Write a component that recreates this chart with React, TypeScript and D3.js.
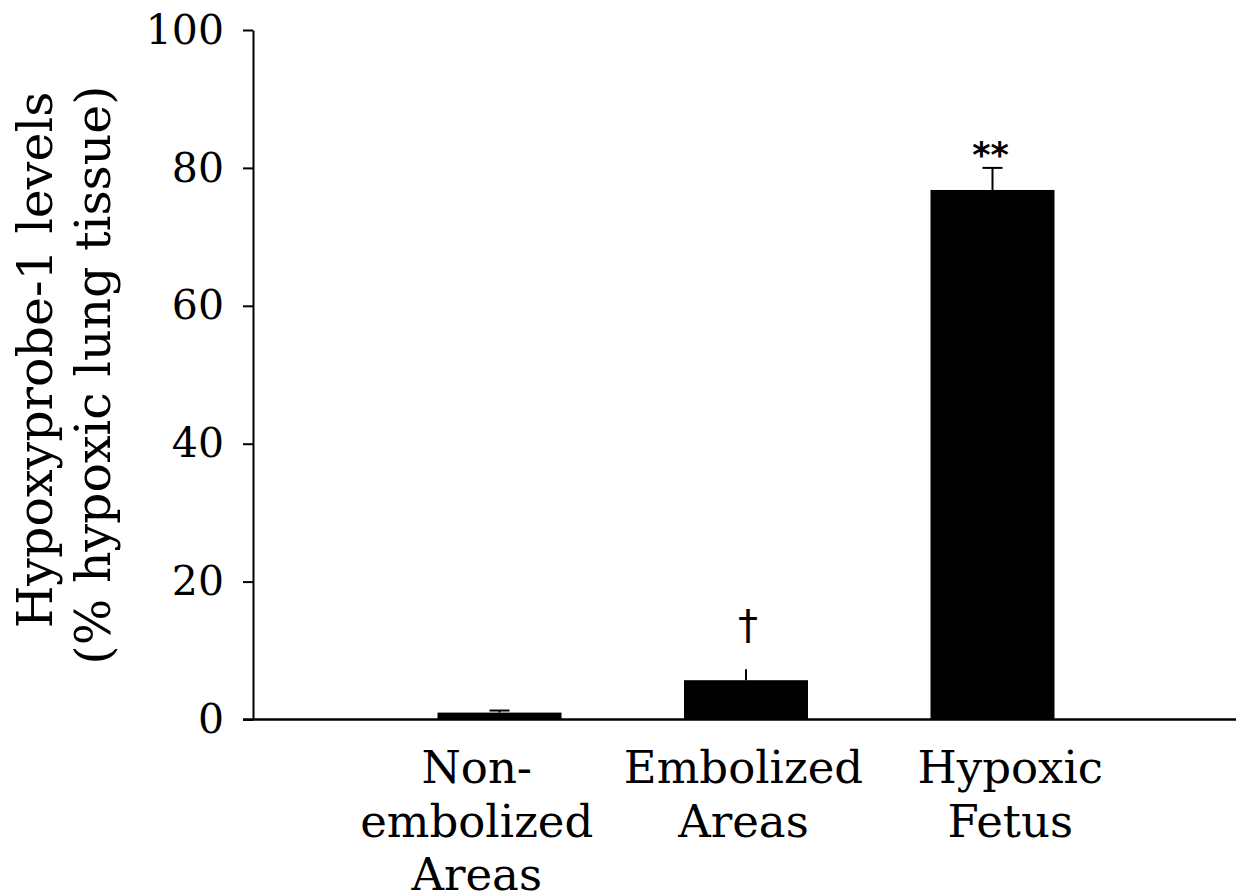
import React, { useEffect, useRef } from "react";
import * as d3 from "d3";

const categories = ["Non-embolized Areas", "Embolized Areas", "Hypoxic Fetus"];
const categoryLines = [["Non-", "embolized", "Areas"], ["Embolized", "Areas"], ["Hypoxic", "Fetus"]];
const means = [1.0, 5.7, 76.8];
const errors = [0.3, 1.6, 3.2];
const errorCaps = [true, false, true];
const marks = ["", "\u2020", "**"];
const yTicks = [0, 20, 40, 60, 80, 100];
const yLabel = ["Hypoxyprobe-1 levels", "(% hypoxic lung tissue)"];

const W = 1236;
const H = 895;
const serif = "'DejaVu Serif', serif";

export default function App() {
  const ref = useRef<SVGSVGElement>(null);

  useEffect(() => {
    const svg = d3.select(ref.current);
    svg.selectAll("*").remove();

    const x0 = 253, x1 = 1239, yTop = 30, yBottom = 719.5;

    const y = d3.scaleLinear().domain([0, 100]).range([yBottom, yTop]);
    const x = d3.scalePoint<string>().domain(categories).range([x0, x1]).padding(1);
    // category labels sit on a slightly wider spread than the bars
    const xLabel = d3.scalePoint<string>().domain(categories).range([210, 1277]).padding(1);
    const barW = x.step() * 0.503;

    // y axis
    const yAxis = svg.append("g").attr("transform", `translate(${x0},0)`)
      .call(d3.axisLeft(y).tickValues(yTicks).tickSize(10).tickPadding(19).tickSizeOuter(0));
    yAxis.select(".domain").attr("stroke", "#000").attr("stroke-width", 2);
    yAxis.selectAll(".tick line").attr("stroke", "#000").attr("stroke-width", 2);
    yAxis.selectAll(".tick text").attr("font-family", serif).attr("font-size", 41).attr("fill", "#000");

    // baseline
    svg.append("line").attr("x1", x0 - 10).attr("x2", W).attr("y1", y(0)).attr("y2", y(0))
      .attr("stroke", "#000").attr("stroke-width", 2.5);

    // bars
    svg.append("g").selectAll("rect").data(means).enter().append("rect")
      .attr("x", (_, i) => x(categories[i])! - barW / 2)
      .attr("width", barW)
      .attr("y", d => y(d))
      .attr("height", d => y(0) - y(d))
      .attr("fill", "#000");

    // error bars
    const eg = svg.append("g").attr("stroke", "#000").attr("stroke-width", 2);
    means.forEach((m, i) => {
      const cx = x(categories[i])!;
      eg.append("line").attr("x1", cx).attr("x2", cx).attr("y1", y(m)).attr("y2", y(m + errors[i]));
      if (errorCaps[i]) {
        eg.append("line").attr("x1", cx - 10).attr("x2", cx + 10)
          .attr("y1", y(m + errors[i])).attr("y2", y(m + errors[i]));
      }
    });

    // significance marks
    means.forEach((m, i) => {
      if (!marks[i]) return;
      const cx = x(categories[i])!;
      const stars = marks[i] === "**";
      svg.append("text")
        .attr("x", stars ? cx - 2 : cx + 2)
        .attr("y", stars ? y(m + errors[i]) - 1 : y(m + errors[i]) - 30)
        .attr("text-anchor", "middle")
        .attr("font-family", "'DejaVu Sans', sans-serif")
        .attr("font-weight", stars ? "bold" : "normal")
        .attr("font-size", stars ? 35 : 40)
        .attr("fill", "#000")
        .text(marks[i]);
    });

    // category labels
    categoryLines.forEach((lines, i) => {
      const lx = xLabel(categories[i])!;
      const t = svg.append("text")
        .attr("x", lx)
        .attr("y", 783)
        .attr("text-anchor", "middle")
        .attr("font-family", serif)
        .attr("font-size", 45)
        .attr("fill", "#000");
      lines.forEach((l, j) => {
        t.append("tspan").attr("x", lx).attr("dy", j === 0 ? 0 : 53.5).text(l);
      });
    });

    // y label
    yLabel.forEach((l, j) => {
      svg.append("text")
        .attr("transform", `translate(${52 + j * 58},${360 + j * 15}) rotate(-90)`)
        .attr("text-anchor", "middle")
        .attr("font-family", serif)
        .attr("font-size", 49)
        .attr("fill", "#000")
        .text(l);
    });
  }, []);

  return (
    <svg ref={ref} width={W} height={H}
      style={{ position: "absolute", left: 0, top: 0, background: "#fff" }} />
  );
}
